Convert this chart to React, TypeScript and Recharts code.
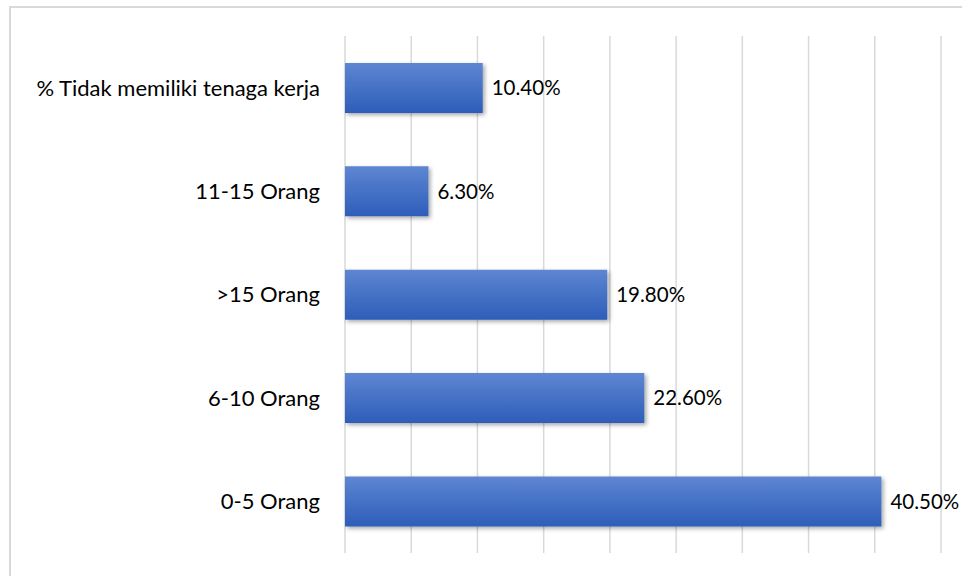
import { Bar, BarChart, CartesianGrid, LabelList, XAxis, YAxis } from "recharts";

const categories = [
  "% Tidak memiliki tenaga kerja",
  "11-15 Orang",
  ">15 Orang",
  "6-10 Orang",
  "0-5 Orang",
];
const values = [10.4, 6.3, 19.8, 22.6, 40.5];
const xTicks = [0, 5, 10, 15, 20, 25, 30, 35, 40, 45];

const data = categories.map((name, i) => ({ name, value: values[i] }));

const FONT = "Lato, 'Open Sans', sans-serif";

export default function App() {
  return (
    <div
      style={{
        position: "fixed",
        left: 0,
        top: 0,
        width: 962,
        height: 576,
        background: "#fff",
        fontFamily: FONT,
      }}
    >
      <div
        style={{
          position: "absolute",
          left: 9,
          top: 6,
          width: 970,
          height: 590,
          border: "2px solid #d9d9d9",
          boxSizing: "border-box",
        }}
      />
      <BarChart
        width={962}
        height={576}
        data={data}
        layout="vertical"
        margin={{ top: 36, right: 21, bottom: 23, left: 0 }}
        barCategoryGap="26%"
        style={{ position: "absolute", left: 0, top: 0 }}
      >
        <defs>
          <linearGradient id="barFill" x1="0" y1="0" x2="0" y2="1">
            <stop offset="0%" stopColor="#5e86d2" />
            <stop offset="100%" stopColor="#2d5db9" />
          </linearGradient>
          <filter id="barShadow" x="-5%" y="-20%" width="115%" height="150%">
            <feDropShadow dx="2" dy="2" stdDeviation="2" floodColor="#000" floodOpacity="0.35" />
          </filter>
        </defs>
        <CartesianGrid horizontal={false} stroke="#d9d9d9" strokeWidth={1.5} />
        <XAxis type="number" domain={[0, 45]} ticks={xTicks} hide />
        <YAxis
          type="category"
          dataKey="name"
          width={345}
          axisLine={false}
          tickLine={false}
          tickMargin={19}
          tick={{ fill: "#000", fontSize: 22, fontFamily: FONT }}
        />
        <Bar
          dataKey="value"
          fill="url(#barFill)"
          filter="url(#barShadow)"
          isAnimationActive={false}
        >
          <LabelList
            dataKey="value"
            position="right"
            offset={9}
            formatter={(v: unknown) => `${Number(v).toFixed(2)}%`}
            style={{ fill: "#000", fontSize: 20.5, fontFamily: FONT }}
          />
        </Bar>
      </BarChart>
    </div>
  );
}
